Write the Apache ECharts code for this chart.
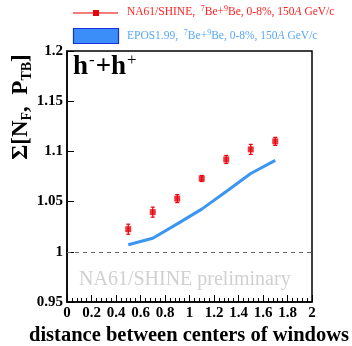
<!DOCTYPE html>
<html>
<head>
<meta charset="utf-8">
<script src="https://cdn.jsdelivr.net/npm/echarts@6/dist/echarts.min.js"></script>
<style>
  html, body { margin: 0; padding: 0; background: #fff; }
  #chart { width: 352px; height: 346px; }
</style>
</head>
<body>
<div id="chart"></div>
<script>
// data
const dist = [0.5, 0.7, 0.9, 1.1, 1.3, 1.5, 1.7];
const na61 = [1.0225, 1.0395, 1.053, 1.073, 1.092, 1.102, 1.110];
const na61Err = [0.005, 0.005, 0.004, 0.003, 0.004, 0.005, 0.004];
const epos = [1.007, 1.0135, 1.0278, 1.0425, 1.060, 1.078, 1.091];
const xTicks = [0, 0.2, 0.4, 0.6, 0.8, 1, 1.2, 1.4, 1.6, 1.8, 2];

const serif = '"Liberation Serif", "DejaVu Serif", serif';
const chart = echarts.init(document.getElementById('chart'));

const errData = dist.map((x, i) => [x, na61[i] - na61Err[i], na61[i] + na61Err[i]]);

chart.setOption({
  animation: false,
  grid: { left: 67, right: 40, top: 51, bottom: 44, show: true, borderColor: '#000', borderWidth: 1.5 },
  xAxis: {
    type: 'value', min: 0, max: 2, interval: 0.2,
    axisLine: { show: true, onZero: false, lineStyle: { color: '#000', width: 1.5 } },
    axisTick: { show: true, inside: true, length: 7, lineStyle: { color: '#000' } },
    minorTick: { show: true, splitNumber: 5, length: 4, lineStyle: { color: '#000' } },
    splitLine: { show: false },
    axisLabel: {
      fontFamily: serif, fontWeight: 'bold', fontSize: 15, color: '#000', margin: 4,
      formatter: v => String(Math.round(v * 10) / 10)
    }
  },
  yAxis: {
    type: 'value', min: 0.95, max: 1.2, interval: 0.05,
    axisLine: { show: true, lineStyle: { color: '#000', width: 1.5 } },
    axisTick: { show: true, inside: true, length: 7, lineStyle: { color: '#000' } },
    splitLine: { show: false },
    axisLabel: {
      fontFamily: serif, fontWeight: 'bold', fontSize: 15, color: '#000', margin: 4,
      formatter: v => String(Math.round(v * 100) / 100)
    }
  },
  series: [
    {
      type: 'line', data: dist.map((x, i) => [x, epos[i]]),
      showSymbol: false, lineStyle: { color: '#3a96f2', width: 3 },
      markLine: {
        silent: true, symbol: 'none', label: { show: false },
        lineStyle: { color: '#666', type: [4, 4], width: 1 },
        data: [[{ coord: [0, 1] }, { coord: [2, 1] }]]
      },
      z: 2
    },
    {
      type: 'custom',
      renderItem: (params, api) => {
        const x = api.coord([api.value(0), api.value(1)])[0];
        const lo = api.coord([api.value(0), api.value(1)])[1];
        const hi = api.coord([api.value(0), api.value(2)])[1];
        const st = { stroke: '#e8000b', lineWidth: 1.2 };
        return {
          type: 'group',
          children: [
            { type: 'line', shape: { x1: x, y1: lo, x2: x, y2: hi }, style: st },
            { type: 'line', shape: { x1: x - 2, y1: lo, x2: x + 2, y2: lo }, style: st },
            { type: 'line', shape: { x1: x - 2, y1: hi, x2: x + 2, y2: hi }, style: st }
          ]
        };
      },
      data: errData, z: 3
    },
    {
      type: 'scatter', data: dist.map((x, i) => [x, na61[i]]),
      symbol: 'rect', symbolSize: 6, itemStyle: { color: '#e8000b' }, z: 4
    }
  ],
  graphic: [
    // legend
    { type: 'line', shape: { x1: 73, y1: 13, x2: 118, y2: 13 }, style: { stroke: '#f05050', lineWidth: 1.5 } },
    { type: 'rect', shape: { x: 93, y: 10, width: 6, height: 6 }, style: { fill: '#e8000b' } },
    { type: 'text', left: 127, top: 5, style: {
      text: '{a|NA61/SHINE,  }{s|7}{a|Be+}{s|9}{a|Be, 0-8%, 150}{i|A}{a| GeV/c}',
      rich: {
        a: { fontFamily: serif, fontSize: 11.5, fill: '#ff2020' },
        i: { fontFamily: serif, fontSize: 11.5, fontStyle: 'italic', fill: '#ff2020' },
        s: { fontFamily: serif, fontSize: 8, fill: '#ff2020', verticalAlign: 'top', padding: [0, 0, 6, 0] }
      }
    } },
    { type: 'rect', shape: { x: 73.5, y: 28.5, width: 45, height: 15 }, style: { fill: '#3b8ef8', stroke: '#1a2ee0', lineWidth: 1.2 } },
    { type: 'text', left: 127, top: 29, style: {
      text: '{a|EPOS1.99,  }{s|7}{a|Be+}{s|9}{a|Be, 0-8%, 150}{i|A}{a| GeV/c}',
      rich: {
        a: { fontFamily: serif, fontSize: 11.5, fill: '#58a8f8' },
        i: { fontFamily: serif, fontSize: 11.5, fontStyle: 'italic', fill: '#58a8f8' },
        s: { fontFamily: serif, fontSize: 8, fill: '#58a8f8', verticalAlign: 'top', padding: [0, 0, 6, 0] }
      }
    } },
    // h-+h+ label
    { type: 'text', left: 73, top: 52, style: {
      text: '{b|h}{s|-}{b|+h}{s|+}',
      rich: {
        b: { fontFamily: serif, fontSize: 27, fontWeight: 'bold', fill: '#000' },
        s: { fontFamily: serif, fontSize: 17, fill: '#000', padding: [0, 1, 14, 1] }
      }
    } },
    // preliminary watermark
    { type: 'text', left: 79, top: 270, style: {
      text: 'NA61/SHINE preliminary', fontFamily: serif, fontSize: 20, fill: '#d0d0d0'
    } },
    // y title
    { type: 'text', x: 21, y: 107, rotation: Math.PI / 2, style: {
      text: '{b|Σ[N}{s|F}{b|,  P}{s|TB}{b|]}',
      align: 'center', verticalAlign: 'middle',
      rich: {
        b: { fontFamily: serif, fontSize: 23, fontWeight: 'bold', fill: '#000' },
        s: { fontFamily: serif, fontSize: 14, fontWeight: 'bold', fill: '#000', padding: [12, 0, 0, 0] }
      }
    } },
    // x title
    { type: 'text', left: 29, top: 325, style: {
      text: 'distance between centers of windows', fontFamily: serif, fontSize: 20.5, fontWeight: 'bold', fill: '#000'
    } }
  ]
});
</script>
</body>
</html>
